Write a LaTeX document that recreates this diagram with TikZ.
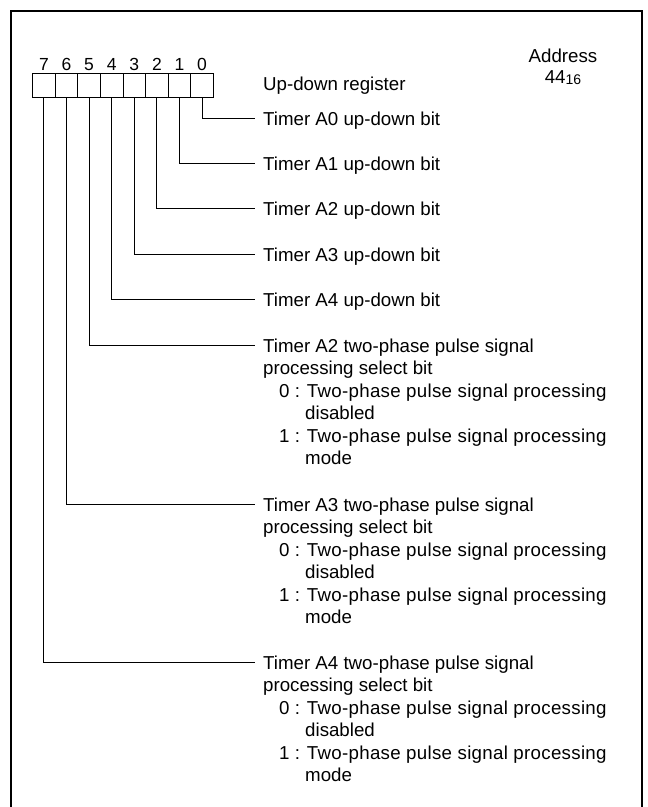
\documentclass[tikz,border=0pt]{standalone}
\usepackage{fontspec}
\setmainfont{Liberation Sans}
\newcommand{\wide}[1]{{\addfontfeature{LetterSpace=1.6}#1}}
\begin{document}
\begin{tikzpicture}[x=1pt,y=-1pt,
  cell/.style={draw, minimum width=22.6pt, minimum height=24pt, inner sep=0pt, line width=1pt},
  digit/.style={anchor=base, inner sep=0pt, font=\fontsize{17.5}{20}\selectfont},
  lbl/.style={anchor=base west, inner sep=0pt, font=\fontsize{18.7}{22.5}\selectfont},
  ctr/.style={anchor=base, inner sep=0pt, font=\fontsize{18.7}{22.5}\selectfont},
  wire/.style={line width=1pt},
  frame/.style={line width=2pt}]
\useasboundingbox (0,0) rectangle (648,807);
\draw[frame] (11,840) -- (11,11) -- (641.5,11) -- (641.5,840);

% register cells and bit numbers
\foreach \b in {0,...,7} {
  \node[cell] (b\b) at ({32.6+22.6*(7-\b)+11.3}, 85) {};
  \node[digit] (d\b) at ({32.6+22.6*(7-\b)+11.3}, 70) {\b};
}

% title texts
\node[lbl] (reg) at (263, 90.5) {Up-down register};
\node[ctr] (addr) at (563, 62) {Address};
\node[ctr] (num) at (563, 83) {44\raisebox{-1pt}{\fontsize{14}{14}\selectfont 16}};

% connector end points
\coordinate (e0) at (255, 118);
\coordinate (e1) at (255, 163.4);
\coordinate (e2) at (255, 208.8);
\coordinate (e3) at (255, 254.2);
\coordinate (e4) at (255, 299.6);
\coordinate (e5) at (255, 345);
\coordinate (e6) at (255, 504);
\coordinate (e7) at (255, 662);
\foreach \b in {0,...,7} {
  \draw[wire] (b\b.south) |- (e\b);
}

% simple bits
\node[lbl] (t0) at (263, 125) {Timer A0 up-down bit};
\node[lbl] (t1) at (263, 170.4) {Timer A1 up-down bit};
\node[lbl] (t2) at (263, 215.8) {Timer A2 up-down bit};
\node[lbl] (t3) at (263, 261.2) {Timer A3 up-down bit};
\node[lbl] (t4) at (263, 306.6) {Timer A4 up-down bit};

% bit 5
\node[lbl] (t5a) at (263, 352) {Timer A2 two-phase pulse signal};
\node[lbl] (t5b) at (263, 374.5) {processing select bit};
\node[lbl] (t5c) at (279, 397) {0 : \wide{Two-phase pulse signal processing}};
\node[lbl] (t5d) at (305, 419.5) {disabled};
\node[lbl] (t5e) at (279, 442) {1 : \wide{Two-phase pulse signal processing}};
\node[lbl] (t5f) at (305, 464.5) {mode};

% bit 6
\node[lbl] (t6a) at (263, 511) {Timer A3 two-phase pulse signal};
\node[lbl] (t6b) at (263, 533.5) {processing select bit};
\node[lbl] (t6c) at (279, 556) {0 : \wide{Two-phase pulse signal processing}};
\node[lbl] (t6d) at (305, 578.5) {disabled};
\node[lbl] (t6e) at (279, 601) {1 : \wide{Two-phase pulse signal processing}};
\node[lbl] (t6f) at (305, 623.5) {mode};

% bit 7
\node[lbl] (t7a) at (263, 669) {Timer A4 two-phase pulse signal};
\node[lbl] (t7b) at (263, 691.5) {processing select bit};
\node[lbl] (t7c) at (279, 714) {0 : \wide{Two-phase pulse signal processing}};
\node[lbl] (t7d) at (305, 736.5) {disabled};
\node[lbl] (t7e) at (279, 759) {1 : \wide{Two-phase pulse signal processing}};
\node[lbl] (t7f) at (305, 781.5) {mode};
\end{tikzpicture}
\end{document}
